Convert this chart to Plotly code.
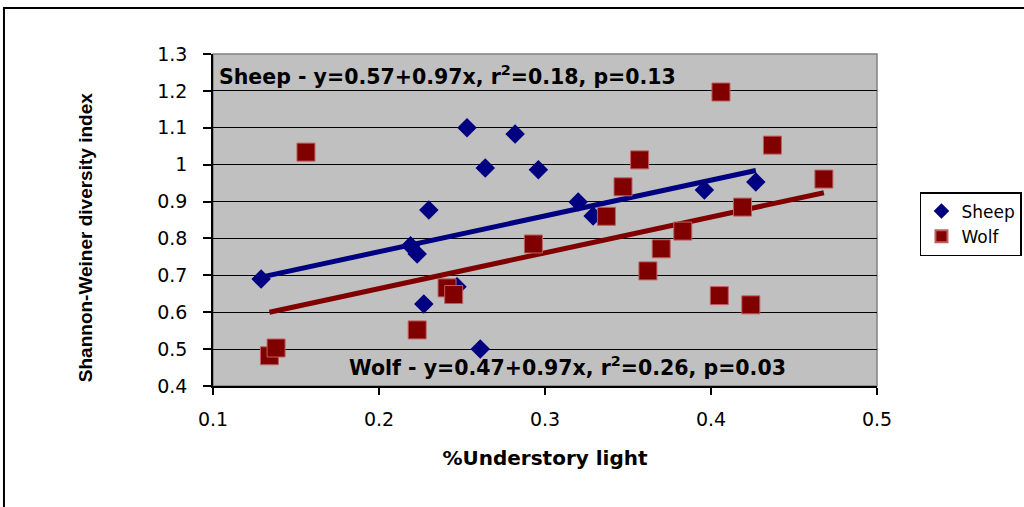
import plotly.graph_objects as go

# Understory light fraction vs Shannon-Weiner diversity, by grazing treatment
sheep_x = [0.129, 0.219, 0.223, 0.230, 0.227, 0.247, 0.253, 0.264, 0.261,
           0.282, 0.296, 0.320, 0.329, 0.396, 0.427]
sheep_y = [0.690, 0.780, 0.758, 0.877, 0.622, 0.669, 1.100, 0.991, 0.500,
           1.083, 0.986, 0.899, 0.861, 0.931, 0.953]

wolf_x = [0.134, 0.138, 0.156, 0.223, 0.241, 0.245, 0.293, 0.337, 0.347,
          0.357, 0.362, 0.370, 0.383, 0.405, 0.406, 0.419, 0.424, 0.437, 0.468]
wolf_y = [0.482, 0.503, 1.034, 0.552, 0.666, 0.648, 0.785, 0.860, 0.940,
          1.013, 0.712, 0.772, 0.820, 0.645, 1.197, 0.885, 0.620, 1.053, 0.961]

# Regression fits (intercept, slope) as reported
sheep_fit = (0.57, 0.97)
wolf_fit = (0.47, 0.97)

x_ticks = [0.1, 0.2, 0.3, 0.4, 0.5]
x_tick_labels = ["0.1", "0.2", "0.3", "0.4", "0.5"]
y_ticks = [0.4, 0.5, 0.6, 0.7, 0.8, 0.9, 1.0, 1.1, 1.2, 1.3]
y_tick_labels = ["0.4", "0.5", "0.6", "0.7", "0.8", "0.9", "1", "1.1", "1.2", "1.3"]

SHEEP = "#000080"
WOLF = "#800000"


def fit_line(xs, fit):
    a, b = fit
    x0, x1 = min(xs), max(xs)
    return [x0, x1], [a + b * x0, a + b * x1]


fig = go.Figure()

lx, ly = fit_line(sheep_x, sheep_fit)
fig.add_trace(go.Scatter(x=lx, y=ly, mode="lines", showlegend=False,
                         line=dict(color=SHEEP, width=5), hoverinfo="skip"))
lx, ly = fit_line(wolf_x, wolf_fit)
fig.add_trace(go.Scatter(x=lx, y=ly, mode="lines", showlegend=False,
                         line=dict(color=WOLF, width=5), hoverinfo="skip"))

fig.add_trace(go.Scatter(
    x=sheep_x, y=sheep_y, mode="markers", name="Sheep",
    marker=dict(symbol="diamond", size=15, color=SHEEP, line=dict(width=0)),
))
fig.add_trace(go.Scatter(
    x=wolf_x, y=wolf_y, mode="markers", name="Wolf",
    marker=dict(symbol="square", size=18, color=WOLF,
                line=dict(width=1, color="#C06060")),
))

tick_font = dict(family="DejaVu Sans", size=19, color="black")
label_font = dict(family="DejaVu Sans", size=20.5, weight="bold", color="black")

fig.update_layout(
    width=1024, height=507,
    margin=dict(l=213, r=147, t=54, b=121, autoexpand=False),
    paper_bgcolor="white",
    plot_bgcolor="#C0C0C0",
    xaxis=dict(
        range=[0.1, 0.5], tickvals=x_ticks, ticktext=x_tick_labels,
        showgrid=False, zeroline=False,
        showline=True, linecolor="black", linewidth=1.5,
        ticks="outside", ticklen=7, tickwidth=1.5, tickcolor="black",
        ticklabelstandoff=8, tickfont=tick_font,
        title=dict(text="%Understory light", standoff=22,
                   font=dict(family="DejaVu Sans", size=20, weight="bold",
                             color="black")),
    ),
    yaxis=dict(
        range=[0.4, 1.3], tickvals=y_ticks, ticktext=y_tick_labels,
        showgrid=True, gridcolor="black", gridwidth=1, zeroline=False,
        showline=True, linecolor="black", linewidth=1.5,
        ticks="outside", ticklen=8, tickwidth=1.5, tickcolor="black",
        ticklabelstandoff=12, tickfont=tick_font,
    ),
    legend=dict(
        xref="container", yref="container",
        x=0.8984, y=0.6213, xanchor="left", yanchor="top",
        bgcolor="white", bordercolor="black", borderwidth=1.5,
        font=dict(family="DejaVu Sans", size=17, color="black"),
        itemsizing="constant", tracegroupgap=0,
    ),
    shapes=[
        # plot-area outline
        dict(type="rect", xref="paper", yref="paper", x0=0, x1=1, y0=0, y1=1,
             line=dict(color="#808080", width=1.5), layer="below"),
        # chart frame
        dict(type="rect", xref="paper", yref="paper",
             x0=-0.3148, x1=1.3, y0=-0.6, y1=1.1386,
             line=dict(color="black", width=2)),
    ],
    annotations=[
        dict(text="Shannon-Weiner diversity index", textangle=-90,
             xref="paper", yref="paper", x=-0.191, y=0.4458,
             xanchor="center", yanchor="middle", showarrow=False,
             font=dict(family="Liberation Sans", size=19, weight="bold",
                       color="black")),
        dict(text="Sheep - y=0.57+0.97x, r<sup>2</sup>=0.18, p=0.13",
             xref="paper", yref="paper", x=0.006, y=0.934,
             xanchor="left", yanchor="middle", showarrow=False,
             font=label_font),
        dict(text="Wolf - y=0.47+0.97x, r<sup>2</sup>=0.26, p=0.03",
             xref="paper", yref="paper", x=0.2015, y=0.06,
             xanchor="left", yanchor="middle", showarrow=False,
             font=label_font),
    ],
)

fig.write_html("out.html")
